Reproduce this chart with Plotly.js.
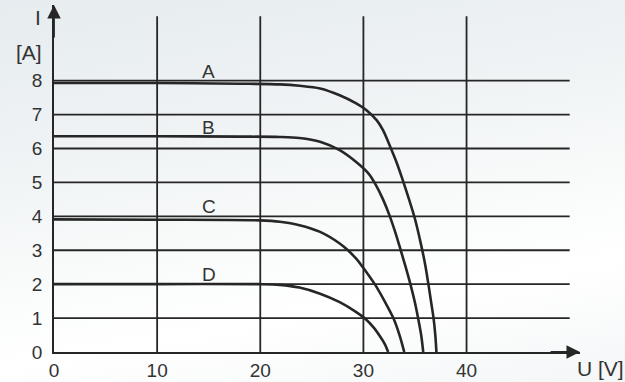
<!DOCTYPE html>
<html>
<head>
<meta charset="utf-8">
<script src="https://cdn.plot.ly/plotly-3.0.1.min.js"></script>
<style>
  html, body { margin: 0; padding: 0; }
  body { width: 625px; height: 382px; overflow: hidden;
         background: linear-gradient(170deg, #e6ecef 0%, #eef2f4 30%, #f8fafa 55%, #ffffff 75%, #f4f6f7 100%); }
  #chart { width: 625px; height: 382px; }
</style>
</head>
<body>
<div id="chart"></div>
<script>
// Data (U in volts, I in amperes)
const curveNames = ["A", "B", "C", "D"];
const uA = [0, 10, 18, 21.9, 23.8, 25.8, 27.7, 29.3, 30.3, 31.3, 31.9, 32.6, 33.2, 33.8, 34.4, 35.0, 35.6, 36.0, 36.3, 36.55, 36.8, 36.97, 37.08];
const iA = [7.93, 7.93, 7.91, 7.89, 7.85, 7.77, 7.57, 7.33, 7.13, 6.83, 6.54, 6.05, 5.6, 5.08, 4.52, 3.92, 3.15, 2.56, 2.0, 1.5, 1.0, 0.5, 0];
const uB = [0, 10, 18, 21.9, 23.8, 25.8, 27.7, 29.3, 30.5, 31.2, 31.9, 32.5, 33.1, 33.6, 34.1, 34.6, 35.0, 35.3, 35.6, 35.8];
const iB = [6.36, 6.36, 6.35, 6.34, 6.31, 6.2, 5.95, 5.6, 5.26, 4.93, 4.5, 4.05, 3.52, 3.02, 2.5, 1.95, 1.45, 1.0, 0.5, 0];
const uC = [0, 10, 20, 21.9, 23.8, 25.8, 27.7, 28.5, 29.3, 29.8, 31.1, 32.05, 32.9, 33.5, 33.96];
const iC = [3.91, 3.9, 3.88, 3.84, 3.74, 3.54, 3.2, 3.0, 2.75, 2.56, 2.0, 1.5, 1.0, 0.5, 0];
const uD = [0, 10, 20, 21.9, 23.8, 25.8, 27.7, 29.2, 30.1, 31.0, 31.7, 32.1, 32.4];
const iD = [2.0, 2.0, 2.0, 1.98, 1.9, 1.72, 1.47, 1.2, 1.0, 0.72, 0.42, 0.22, 0];
const labelU = [15, 15, 15, 15];
const labelI = [8.26, 6.62, 4.28, 2.29];

const xTicks = [0, 10, 20, 30, 40];
const xTickLabels = ["0", "10", "20", "30", "40"];
const yTicks = [0, 1, 2, 3, 4, 5, 6, 7, 8];
const yTickLabels = ["0", "1", "2", "3", "4", "5", "6", "7", "8"];
const xGridEnd = 50;
const yGridEnd = 9.9;
const xMax = 51;
const yMax = 10.23;

const ink = "#262626";
const textColor = "#333333";
const font = { family: "Liberation Sans, Arial, sans-serif", size: 19, color: textColor };
const titleFont = { family: "Liberation Sans, Arial, sans-serif", size: 21, color: textColor };

const seriesU = [uA, uB, uC, uD];
const seriesI = [iA, iB, iC, iD];
const traces = seriesU.map((u, k) => ({
  x: u, y: seriesI[k], type: "scatter", mode: "lines",
  name: curveNames[k], cliponaxis: false, hoverinfo: "skip",
  line: { color: ink, width: 2.6, shape: "spline", smoothing: 0.85 }
}));

const shapes = [];
yTicks.filter(v => v > 0).forEach(v => shapes.push({
  type: "line", xref: "x", yref: "y", x0: 0, x1: xGridEnd, y0: v, y1: v,
  line: { color: ink, width: 1.8 }, layer: "below"
}));
xTicks.filter(v => v > 0).forEach(v => shapes.push({
  type: "line", xref: "x", yref: "y", x0: v, x1: v, y0: 0, y1: yGridEnd,
  line: { color: ink, width: 1.8 }, layer: "below"
}));

const annotations = curveNames.map((n, k) => ({
  x: labelU[k], y: labelI[k], xref: "x", yref: "y", text: n, showarrow: false,
  font: font, xanchor: "center", yanchor: "middle"
}));
// axis arrows
annotations.push({ x: xMax, y: 0, ax: xMax - 3, ay: 0, xref: "x", yref: "y", axref: "x", ayref: "y",
  text: "", showarrow: true, arrowhead: 2, arrowsize: 1.5, arrowwidth: 1.8, arrowcolor: ink, standoff: 0 });
annotations.push({ x: 0, y: yMax, ax: 0, ay: yMax - 1, xref: "x", yref: "y", axref: "x", ayref: "y",
  text: "", showarrow: true, arrowhead: 2, arrowsize: 1.5, arrowwidth: 1.8, arrowcolor: ink, standoff: 0 });
// axis titles (pixel positions, converted to paper coords below)
annotations.push({ x: 37.5, y: 17, xref: "paper", yref: "paper", text: "I", showarrow: false, font: titleFont });
annotations.push({ x: 29, y: 52, xref: "paper", yref: "paper", text: "[A]", showarrow: false, font: titleFont });
annotations.push({ x: 600, y: 368, xref: "paper", yref: "paper", text: "U [V]", showarrow: false, font: titleFont });
const W = 625, H = 382, M = { l: 54, r: 45, t: 5, b: 30 };
annotations.forEach(a => {
  if (a.xref === "paper") {
    a.x = (a.x - M.l) / (W - M.l - M.r);
    a.y = (H - M.b - a.y) / (H - M.t - M.b);
    a.xanchor = "center"; a.yanchor = "middle";
  }
});

const layout = {
  width: W, height: H,
  margin: M,
  paper_bgcolor: "rgba(0,0,0,0)",
  plot_bgcolor: "rgba(0,0,0,0)",
  showlegend: false,
  font: font,
  xaxis: {
    range: [0, xMax], showgrid: false, zeroline: false,
    showline: true, linecolor: ink, linewidth: 1.8, mirror: false,
    tickvals: xTicks, ticktext: xTickLabels, ticks: "", ticklen: 0,
    tickfont: font, fixedrange: true
  },
  yaxis: {
    range: [0, yMax], showgrid: false, zeroline: false,
    showline: true, linecolor: ink, linewidth: 1.8,
    tickvals: yTicks, ticktext: yTickLabels, ticks: "outside", ticklen: 6,
    tickcolor: "rgba(0,0,0,0)", tickfont: font, fixedrange: true
  },
  shapes: shapes,
  annotations: annotations
};

Plotly.newPlot("chart", traces, layout, { staticPlot: true, displayModeBar: false });
</script>
</body>
</html>
